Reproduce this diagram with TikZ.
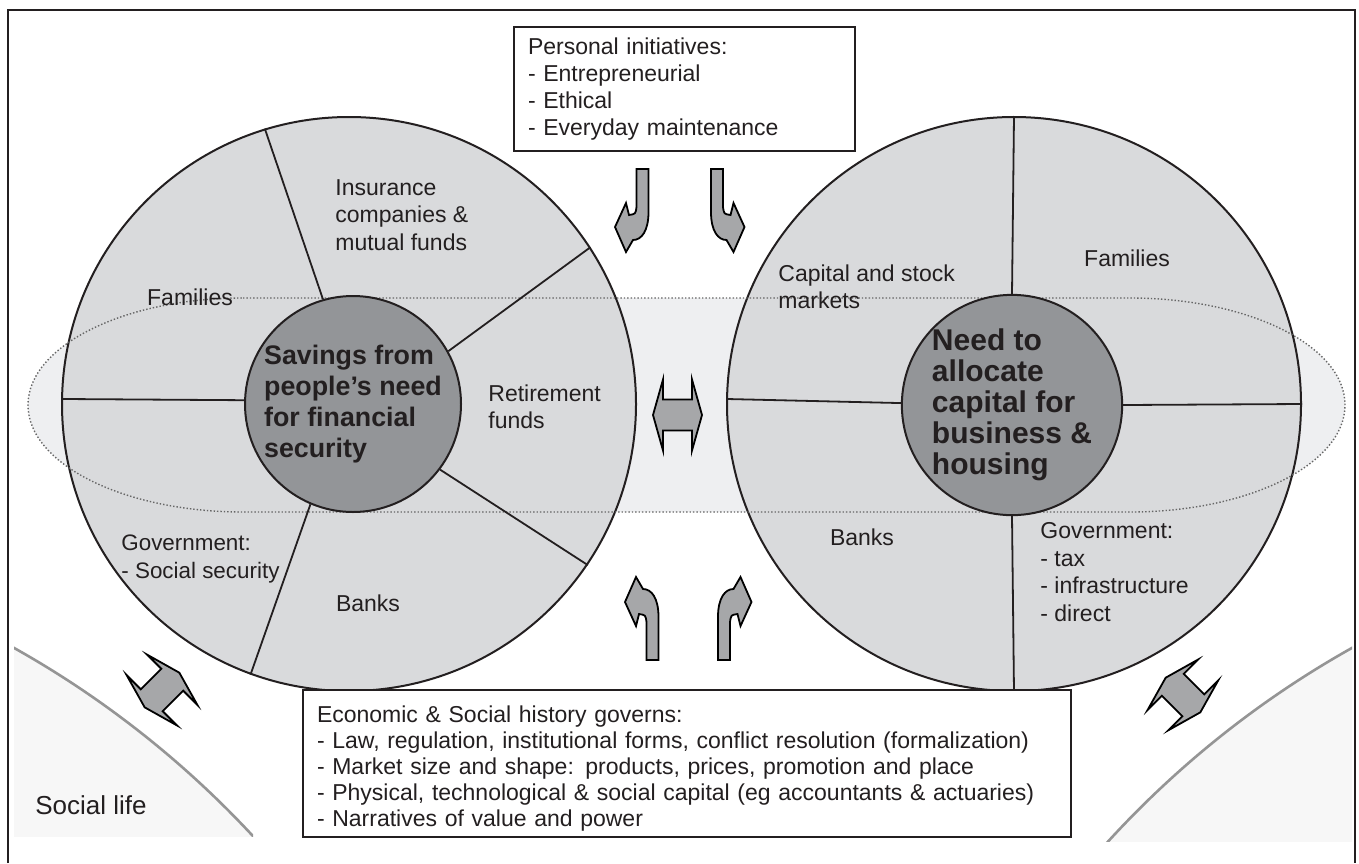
\documentclass[tikz,border=0pt]{standalone}
\usepackage{fontspec}
\setmainfont{Liberation Sans}
\usetikzlibrary{positioning}
\definecolor{ringgray}{HTML}{D9DADC}
\definecolor{coregray}{HTML}{939598}
\definecolor{bandgray}{HTML}{EEEFF1}
\definecolor{arrowgray}{HTML}{A6A7A9}
\definecolor{lifegray}{HTML}{F7F7F7}
\definecolor{lifeline}{HTML}{959595}
\definecolor{inkgray}{HTML}{231F20}
\tikzset{
  ring/.style={circle, draw=inkgray, line width=1pt, fill=ringgray, minimum size=287pt, inner sep=0pt},
  core/.style={circle, draw=inkgray, line width=1pt, fill=coregray, minimum size=108pt, inner sep=0pt, align=left, text=inkgray},
  lbl/.style={inner sep=0pt, align=left, text=inkgray, font=\fontsize{11.5}{13.75}\selectfont},
  txtbox/.style={draw=inkgray, line width=1pt, fill=white, align=left, text=inkgray, inner xsep=7pt, anchor=north west, font=\fontsize{11.5}{13.4}\selectfont},
  divider/.style={draw=inkgray, line width=0.9pt},
  blockarrow/.style={draw=black, line width=0.9pt, fill=arrowgray},
  bendarrow/.pic={
    \path[blockarrow] (-6,0) -- (6,0) -- (6,43) .. controls (6,62) and (-1,71) .. (-9.5,71)
      -- (-16.5,83) -- (-27.5,58) -- (-16.5,34) -- (-13.5,46) .. controls (-7,45) .. (-6,38) -- cycle;
  },
  swaparrow/.pic={
    \path[blockarrow] (-24.5,0) -- (-14.5,-35.5) -- (-14.5,-15.5) -- (14.5,-15.5) -- (14.5,-35.5)
      -- (24.5,0) -- (14.5,35.5) -- (14.5,15.5) -- (-14.5,15.5) -- (-14.5,35.5) -- cycle;
  }
}
\begin{document}
\begin{tikzpicture}[x=0.5pt, y=-0.5pt]
	\useasboundingbox (0,0) rectangle (1359,863);
	% light band behind both circles
	\fill[bandgray] (243,298) -- (1130,298) arc[start angle=-90, end angle=90, x radius=215, y radius=107]
	-- (243,512) arc[start angle=90, end angle=270, x radius=215, y radius=107] -- cycle;
	% social life corners
	\begin{scope}
	\clip (14,645) rectangle (253,836);
	\draw[lifeline, line width=1.3pt, fill=lifegray] (-462,1499) circle[radius=975];
	\end{scope}
	\begin{scope}
	\clip (1100,645) rectangle (1352,841);
	\draw[lifeline, line width=1.3pt, fill=lifegray] (1828,1499) circle[radius=975];
	\end{scope}
	\node[lbl, anchor=west, font=\fontsize{13}{15}\selectfont] (sociallife) at (35,805) {Social life};
	% the two circles
	\node[ring] (savring) at (349,404) {};
	\node[ring] (capring) at (1014,404) {};
	\draw[densely dotted, line width=0.7pt, black!60] (243,298) -- (1130,298)
	arc[start angle=-90, end angle=90, x radius=215, y radius=107]
	-- (243,512) arc[start angle=90, end angle=270, x radius=215, y radius=107] -- cycle;
	\node[core, font=\fontsize{13.4}{15.5}\selectfont\bfseries] (savcore) at (353,404) {Savings from\\people's need\\for financial\\security};
	\node[core, font=\fontsize{15}{15.5}\selectfont\bfseries] (capcore) at (1012,405) {Need to\\allocate\\capital for\\business \&\\housing};
	% sector lines
	\draw[divider] (savcore.106) -- (savring.107);
	\draw[divider] (savcore.29) -- (savring.33);
	\draw[divider] (savcore.178) -- (savring.179);
	\draw[divider] (savcore.-37) -- (savring.-34);
	\draw[divider] (savcore.247) -- (savring.250);
	\draw[divider] (capcore.90) -- (capring.90);
	\draw[divider] (capcore.179) -- (capring.179);
	\draw[divider] (capcore.0) -- (capring.0);
	\draw[divider] (capcore.270) -- (capring.270);
	% sector labels
	\node[lbl, anchor=west] (insurance) at (335,215) {Insurance\\companies \&\\mutual funds};
	\node[lbl] (famleft) at (190,297) {Families};
	\node[lbl, anchor=west] (retirement) at (488,407) {Retirement\\funds};
	\node[lbl, anchor=west, font=\fontsize{11.2}{13.75}\selectfont] (govleft) at (121,559) {Government:\\- Social security};
	\node[lbl] (banksleft) at (368,603) {Banks};
	\node[lbl, anchor=west] (capmarkets) at (778,287) {Capital and stock\\markets};
	\node[lbl] (famright) at (1127,258) {Families};
	\node[lbl] (banksright) at (862,537) {Banks};
	\node[lbl, anchor=west] (govright) at (1040,572) {Government:\\- tax\\- infrastructure\\- direct};
	% boxes
	\node[txtbox, text width=156.5pt, minimum height=62pt] (persbox) at (513,26) {Personal initiatives:\\- Entrepreneurial\\- Ethical\\- Everyday maintenance};
	\node[txtbox, text width=370pt, inner ysep=2.5pt, font=\fontsize{11.5}{13.1}\selectfont] (histbox) at (302,689) {\rule{0pt}{13.5pt}Economic \& Social history governs:\\- Law, regulation, institutional forms, conflict resolution (formalization)\\- Market size and shape: products, prices, promotion and place\\- Physical, technological \& social capital (eg accountants \& actuaries)\\- Narratives of value and power};
	% Arrows
	\pic at (642.5,169) {bendarrow};
	\pic[xscale=-1] at (717,169) {bendarrow};
	\pic[yscale=-1] at (652.5,660) {bendarrow};
	\pic[xscale=-1, yscale=-1] at (724,660) {bendarrow};
	\pic at (677.5,415) {swaparrow};
	\pic[rotate=45] at (162,690) {swaparrow};
	\pic[rotate=-45] at (1183,695) {swaparrow};
	% frame
	\draw[inkgray, line width=1pt] (8,863) -- (8,10) -- (1355,10) -- (1355,863);
\end{tikzpicture}
\end{document}
